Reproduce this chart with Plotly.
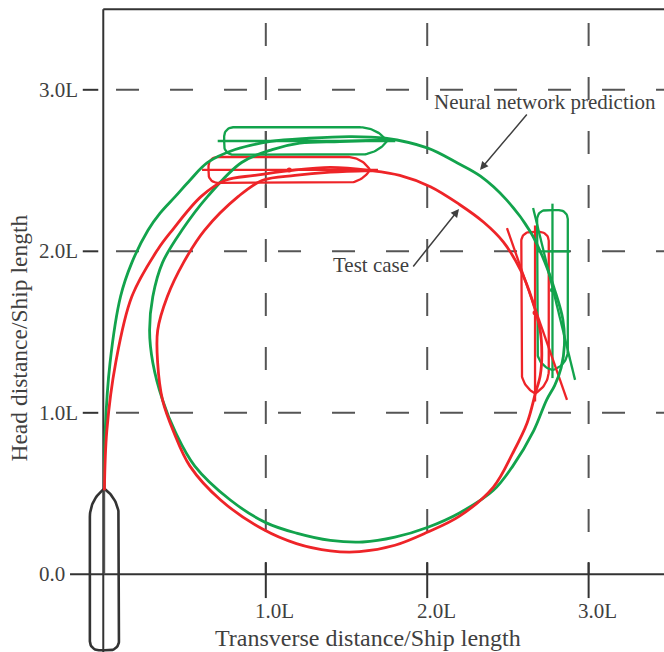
import numpy as np
import plotly.graph_objects as go

# ---------------- data (units: ship lengths L) ----------------
# Neural network prediction trajectory (green)
green_x = [0.00, 0.005, 0.035, 0.10, 0.17, 0.27, 0.345, 0.44, 0.53, 0.64, 0.81, 1.03, 1.27,
           1.52, 1.74, 2.00, 2.19, 2.33, 2.49, 2.64, 2.73, 2.79, 2.84, 2.85, 2.83, 2.79,
           2.74, 2.66, 2.53, 2.41, 2.20, 2.00, 1.80, 1.60, 1.40, 1.19, 1.00, 0.78, 0.56,
           0.44, 0.36, 0.30, 0.28, 0.30, 0.36, 0.48, 0.64, 0.85, 1.04, 1.21, 1.46, 1.74]
green_y = [0.53, 0.89, 1.31, 1.72, 1.93, 2.13, 2.236, 2.34, 2.44, 2.55, 2.63, 2.68, 2.70,
           2.71, 2.70, 2.64, 2.545, 2.465, 2.32, 2.12, 1.93, 1.76, 1.58, 1.42, 1.28, 1.17,
           1.08, 0.89, 0.67, 0.52, 0.38, 0.29, 0.23, 0.20, 0.21, 0.255, 0.32, 0.46, 0.67,
           0.88, 1.08, 1.31, 1.51, 1.72, 1.93, 2.13, 2.34, 2.55, 2.63, 2.67, 2.68, 2.69]

# Test case trajectory (red)
red_x = [0.00, 0.015, 0.07, 0.17, 0.33, 0.42, 0.60, 0.75, 0.93, 1.15, 1.40, 1.65, 1.83,
         2.02, 2.20, 2.35, 2.47, 2.58, 2.65, 2.70, 2.71, 2.70, 2.67, 2.62, 2.53, 2.41,
         2.20, 2.00, 1.80, 1.58, 1.40, 1.19, 0.98, 0.72, 0.53, 0.43, 0.36, 0.33, 0.33,
         0.39, 0.49, 0.62, 0.83, 0.98, 1.18, 1.40, 1.65]
red_y = [0.52, 0.89, 1.31, 1.72, 2.01, 2.13, 2.34, 2.44, 2.47, 2.50, 2.52, 2.50, 2.47,
         2.40, 2.29, 2.18, 2.06, 1.88, 1.70, 1.51, 1.36, 1.23, 1.12, 0.94, 0.75, 0.54,
         0.36, 0.26, 0.18, 0.14, 0.145, 0.19, 0.28, 0.46, 0.67, 0.88, 1.08, 1.31, 1.51,
         1.72, 1.93, 2.13, 2.34, 2.44, 2.47, 2.49, 2.50]

# Ship silhouettes
ship_cx      = [0.00, 1.145, 1.247, 2.668, 2.776]
ship_cy      = [0.03, 2.504, 2.683, 1.620, 1.760]
ship_heading = [90, 0, 0, -90, -90]
ship_length  = [1.00, 1.00, 1.01, 1.00, 0.99]
ship_beam    = [0.18, 0.16, 0.17, 0.17, 0.19]
ship_bowlen  = [0.175, 0.14, 0.17, 0.14, 0.12]
ship_kind    = ["start", "test", "nn", "test", "nn"]

# drift / heading lines on the right-hand ships
drift_red_x, drift_red_y = [2.494, 2.866], [2.144, 1.08]
drift_green_x, drift_green_y = [2.656, 2.916], [2.268, 1.204]
mark_green_x, mark_green_y = [2.686, 2.885], [2.0, 2.0]
advance_x, advance_y = [1.0, 1.0], [2.268, 2.745]

x_ticks = [1, 2, 3]
x_labels = ["1.0L", "2.0L", "3.0L"]
y_ticks = [0, 1, 2, 3]
y_labels = ["0.0", "1.0L", "2.0L", "3.0L"]

# ---------------- styling ----------------
RED = "#EE2428"
GREEN = "#12A34C"
GRAY = "#333333"
GRID = "#555555"
TXT = "#3f3f3f"
FONT = "Liberation Serif"
colors = {"start": GRAY, "test": RED, "nn": GREEN}

XMIN, XMAX = -0.6468, 3.467
YMIN, YMAX = -0.481, 3.556


def ship_outline(cx, cy, hdg, length, beam, bow_len, r=0.055):
    b = beam / 2
    us, ub = -length / 2, length / 2
    u0 = ub - bow_len
    R = (b * b + bow_len * bow_len) / (2 * b)
    u, v = [us], [0.0]
    t = np.linspace(np.pi, 1.5 * np.pi, 12)
    u += list(us + r + r * np.cos(t)); v += list(-b + r + r * np.sin(t))
    uu = np.linspace(u0, ub, 20)
    vv = np.sqrt(np.maximum(R * R - (uu - u0) ** 2, 0)) - (R - b)
    u += list(uu); v += list(-vv)
    u += list(uu[::-1]); v += list(vv[::-1])
    t = np.linspace(0.5 * np.pi, np.pi, 12)
    u += list(us + r + r * np.cos(t)); v += list(b - r + r * np.sin(t))
    u.append(us); v.append(0.0)
    u, v = np.array(u), np.array(v)
    th = np.radians(hdg)
    X = cx + u * np.cos(th) - v * np.sin(th)
    Y = cy + u * np.sin(th) + v * np.cos(th)
    return X, Y


fig = go.Figure()


def line(x, y, color, width=2, dash=None, shape="linear", mode="lines"):
    fig.add_trace(go.Scatter(x=x, y=y, mode=mode, hoverinfo="skip", showlegend=False,
                             line=dict(color=color, width=width, dash=dash, shape=shape)))


# grid lines (dashed)
for t in [1, 2, 3]:
    line([0.072, XMAX], [t, t], GRID, 2, dash="23px,31px")
    line([t, t], [3.414, 0.0], GRID, 2, dash="23px,31px")

# axis frame
line([-0.007, -0.007], [3.498, YMIN], GRAY, 2)
line([-0.007, XMAX], [3.498, 3.498], GRAY, 2)
line([-0.213, XMAX], [0, 0], GRAY, 2)
for t in x_ticks:
    line([t, t], [0.076, -0.147], GRAY, 2)
for t in y_ticks[1:]:
    line([-0.134, -0.038], [t, t], GRAY, 2)

line(advance_x, advance_y, "#555555", 2)

# ships
for i in range(len(ship_cx)):
    col = colors[ship_kind[i]]
    X, Y = ship_outline(ship_cx[i], ship_cy[i], ship_heading[i], ship_length[i],
                        ship_beam[i], ship_bowlen[i])
    line(list(X), list(Y), col, 2.6 if ship_kind[i] == "start" else 2.3)
    th = np.radians(ship_heading[i])
    L = ship_length[i]
    if ship_kind[i] == "start":
        line([ship_cx[i], ship_cx[i]], [ship_cy[i] + L / 2, 0.0], "#555555", 1.6)
    else:
        a, bnd = -L / 2 - 0.04, L / 2 + 0.05
        line([ship_cx[i] + a * np.cos(th), ship_cx[i] + bnd * np.cos(th)],
             [ship_cy[i] + a * np.sin(th), ship_cy[i] + bnd * np.sin(th)], col, 2.3)
        fig.add_trace(go.Scatter(x=[ship_cx[i]], y=[ship_cy[i]], mode="markers",
                                 hoverinfo="skip", showlegend=False,
                                 marker=dict(color=col, size=5)))

line(drift_green_x, drift_green_y, GREEN, 2.3)
line(mark_green_x, mark_green_y, GREEN, 2.3)
line(drift_red_x, drift_red_y, RED, 2.3)

# trajectories
line(green_x, green_y, GREEN, 2.8, shape="spline")
line(red_x, red_y, RED, 2.8, shape="spline")

# ---------------- text ----------------
ann = []
for t, lab in zip(y_ticks, y_labels):
    ann.append(dict(x=-0.418, y=t, text=lab, xanchor="left", yanchor="middle",
                    showarrow=False, font=dict(family=FONT, size=21, color=TXT)))
for t, lab in zip(x_ticks, x_labels):
    ann.append(dict(x=t + 0.055, y=-0.227, text=lab, xanchor="center", yanchor="middle",
                    showarrow=False, font=dict(family=FONT, size=21, color=TXT)))
ann.append(dict(x=1.636, y=-0.395, text="Transverse distance/Ship length",
                xanchor="center", yanchor="middle", showarrow=False,
                font=dict(family=FONT, size=24, color=TXT)))
ann.append(dict(x=-0.529, y=1.46, text="Head distance/Ship length", textangle=-90,
                xanchor="center", yanchor="middle", showarrow=False,
                font=dict(family=FONT, size=23.5, color=TXT)))
ann.append(dict(x=2.03, y=2.924, text="Neural network prediction", xanchor="left",
                yanchor="middle", showarrow=False, font=dict(family=FONT, size=21, color=TXT)))
ann.append(dict(x=1.649, y=1.915, text="Test case", xanchor="center",
                yanchor="middle", showarrow=False, font=dict(family=FONT, size=21, color=TXT)))
# arrows
ann.append(dict(x=2.327, y=2.504, ax=2.625, ay=2.856, axref="x", ayref="y", xref="x",
                yref="y", text="", showarrow=True, arrowhead=2, arrowsize=1.1,
                arrowwidth=1.5, arrowcolor=TXT))
ann.append(dict(x=2.197, y=2.262, ax=1.906, ay=1.897, axref="x", ayref="y", xref="x",
                yref="y", text="", showarrow=True, arrowhead=2, arrowsize=1.1,
                arrowwidth=1.5, arrowcolor=TXT))
for a in ann:
    a.setdefault("xref", "x")
    a.setdefault("yref", "y")

fig.update_layout(
    width=664, height=652, margin=dict(l=0, r=0, t=0, b=0),
    paper_bgcolor="white", plot_bgcolor="white",
    xaxis=dict(range=[XMIN, XMAX], visible=False, fixedrange=True),
    yaxis=dict(range=[YMIN, YMAX], visible=False, fixedrange=True),
    annotations=ann, hovermode=False,
)

fig.write_html("out.html")
